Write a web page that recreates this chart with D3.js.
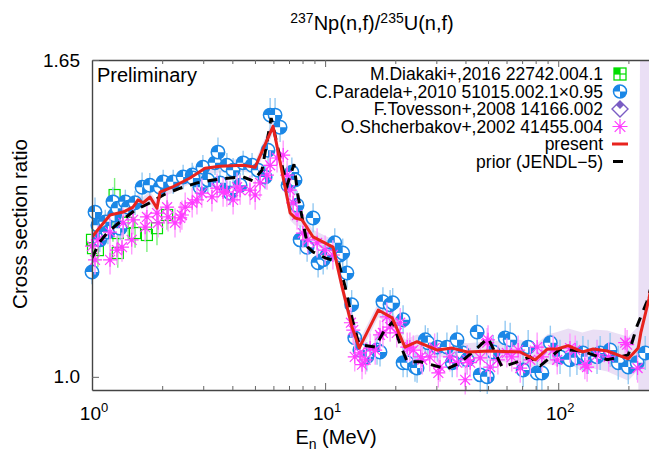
<!DOCTYPE html>
<html>
<head>
<meta charset="utf-8">
<script src="https://cdn.jsdelivr.net/npm/d3@7"></script>
<style>
  body { margin: 0; background: #fff; }
  svg { display: block; font-family: "Liberation Sans", Arial, Helvetica, sans-serif; }
</style>
</head>
<body>
<svg id="chart" width="649" height="452"></svg>
<script>
// ---- Evaluated curves: [E (MeV), ratio, 1-sigma band] ----
const present = [
  [1.00,1.287,.012],[1.195,1.332,.012],[1.359,1.338,.012],[1.50,1.348,.012],[1.575,1.363,.012],
  [1.655,1.357,.012],[1.774,1.369,.012],[1.90,1.346,.012],[1.958,1.379,.012],[2.205,1.389,.012],
  [2.634,1.408,.012],[3.055,1.428,.013],[3.542,1.432,.013],[4.45,1.434,.013],[5.01,1.430,.013],
  [5.98,1.514,.015],[7.08,1.336,.015],[7.43,1.326,.015],[7.96,1.322,.015],[8.88,1.287,.015],
  [10.82,1.266,.015],[11.83,1.184,.015],[13.05,1.102,.015],[14.0,1.059,.015],[16.9,1.137,.015],
  [19.4,1.121,.015],[22.0,1.061,.015],[24.8,1.072,.015],[30.3,1.055,.016],[35.1,1.059,.016],
  [40.7,1.051,.018],[51.1,1.053,.02],[68.7,1.051,.025],[79.6,1.035,.03],[89.7,1.057,.03],
  [99.0,1.057,.035],[110.4,1.064,.035],[126.8,1.051,.04],[141.3,1.057,.04],[162.3,1.053,.042],
  [199.7,1.037,.045],[220.4,1.059,.045],[226,1.09,.8],[245,1.16,.8],[270,1.27,.8]
];
const prior = [
  [1.0,1.244],[1.08,1.277],[1.17,1.297],[1.29,1.314],[1.53,1.342],[1.77,1.357],[2.06,1.375],
  [2.39,1.387],[2.82,1.398],[3.31,1.404],[3.91,1.408],[4.45,1.410],[4.91,1.402],[5.36,1.424],
  [5.87,1.531],[6.41,1.449],[6.87,1.393],[7.35,1.436],[7.64,1.373],[8.03,1.318],[8.43,1.266],
  [8.88,1.256],[10.0,1.244],[11.4,1.236],[12.2,1.184],[13.0,1.123],[13.8,1.076],[14.1,1.066],
  [16.4,1.061],[17.7,1.090],[19.5,1.113],[21.0,1.066],[22.5,1.031],[25.7,1.031],[33.3,1.016],
  [38.0,1.029],[44.9,1.059],[50.0,1.080],[57.4,1.020],[65.4,1.029],[75.9,1.041],[83.9,1.023],
  [101.8,1.057],[126.8,1.053],[162.3,1.035],[199.7,1.045],[218,1.105],[240,1.154],[270,1.24]
];

// ---- Measurements: [E (MeV), ratio, uncertainty] ----
const diakaki = [
  [1.00,1.281,.03],[1.01,1.264,.03],[1.06,1.260,.035],[1.08,1.311,.03],[1.23,1.307,.03],
  [1.25,1.373,.035],[1.29,1.295,.03],[1.29,1.254,.03],[1.43,1.316,.035],[1.53,1.295,.03],
  [1.72,1.291,.035],[1.90,1.305,.035],[2.10,1.332,.03]
];
const paradela = [
  [1.00,1.215,.025],[1.03,1.338,.03],[1.06,1.311,.025],[1.08,1.281,.025],[1.14,1.318,.025],
  [1.17,1.297,.025],[1.23,1.359,.03],[1.25,1.332,.025],[1.29,1.346,.025],[1.32,1.305,.025],
  [1.39,1.359,.025],[1.43,1.348,.025],[1.53,1.357,.025],[1.64,1.389,.03],[1.77,1.393,.025],
  [1.96,1.389,.025],[2.02,1.400,.025],[2.23,1.400,.025],[2.46,1.410,.025],[2.69,1.414,.025],
  [2.71,1.408,.025],[2.91,1.389,.025],[2.99,1.430,.025],[3.14,1.404,.025],[3.37,1.439,.025],
  [3.47,1.461,.03],[3.54,1.398,.025],[3.79,1.434,.025],[3.91,1.377,.025],[4.03,1.424,.025],
  [4.32,1.393,.025],[4.45,1.439,.025],[4.86,1.434,.025],[5.16,1.424,.025],[5.53,1.410,.025],
  [5.69,1.465,.03],[5.81,1.537,.035],[6.10,1.537,.035],[6.41,1.512,.03],[6.93,1.393,.03],
  [7.20,1.420,.03],[7.43,1.404,.03],[7.58,1.352,.03],[7.81,1.281,.03],[8.37,1.266,.03],
  [8.88,1.326,.03],[9.33,1.234,.03],[9.81,1.240,.03],[10.2,1.250,.03],[11.0,1.275,.03],
  [11.6,1.250,.03],[11.9,1.254,.03],[12.4,1.213,.03],[13.0,1.148,.03],[13.4,1.080,.03],
  [14.1,1.055,.03],[15.1,1.041,.03],[16.7,1.055,.03],[17.2,1.051,.03],[17.7,1.154,.03],
  [19.0,1.148,.03],[19.5,1.152,.03],[21.6,1.117,.03],[21.6,1.029,.03],[22.5,1.029,.03],
  [24.3,1.020,.03],[24.8,1.018,.03],[26.9,1.076,.03],[27.6,1.070,.03],[30.3,1.061,.03],
  [33.3,1.061,.03],[35.1,1.029,.03],[36.8,1.076,.03],[39.0,1.049,.03],[40.7,1.035,.03],
  [44.9,1.092,.035],[46.3,1.004,.035],[49.6,1.000,.035],[52.6,1.051,.035],[59.2,1.080,.035],
  [62.2,1.076,.035],[70.7,1.014,.035],[74.3,1.061,.035],[81.2,1.008,.035],[85.1,1.008,.035],
  [92.5,1.070,.035],[101.8,1.041,.035],[112.3,1.035,.035],[120.3,1.039,.035],[127.6,1.049,.035],
  [134.3,1.041,.035],[146.7,1.041,.035],[151.3,1.049,.035],[166.9,1.055,.035],[180.9,1.029,.035],
  [199.7,1.020,.035],[218.1,1.029,.035],[236.1,1.049,.035]
];
const tovesson = [];
const shcherbakov = [
  [1.00,1.268,.03],[1.03,1.240,.03],[1.06,1.281,.03],[1.195,1.240,.03],[1.195,1.297,.03],
  [1.28,1.260,.03],[1.345,1.266,.03],[1.36,1.316,.03],[1.48,1.281,.03],[1.50,1.322,.03],
  [1.69,1.307,.03],[1.72,1.328,.03],[1.90,1.336,.03],[1.92,1.316,.03],[2.10,1.348,.03],
  [2.12,1.328,.03],[2.27,1.316,.03],[2.39,1.326,.03],[2.43,1.332,.03],[2.51,1.348,.03],
  [2.69,1.357,.03],[2.82,1.363,.03],[2.96,1.377,.03],[3.27,1.369,.03],[3.44,1.387,.03],
  [3.65,1.379,.03],[3.79,1.379,.03],[4.03,1.363,.03],[4.19,1.389,.03],[4.32,1.383,.03],
  [4.76,1.383,.03],[5.01,1.373,.03],[5.26,1.398,.03],[5.63,1.414,.03],[5.81,1.434,.03],
  [6.22,1.449,.03],[6.61,1.455,.03],[6.87,1.414,.03],[7.07,1.383,.03],[7.29,1.357,.03],
  [7.58,1.332,.03],[8.03,1.295,.03],[8.43,1.281,.03],[9.24,1.275,.03],[10.0,1.260,.03],
  [10.8,1.250,.03],[12.9,1.111,.03],[13.2,1.096,.03],[13.4,1.041,.03],[14.1,1.049,.03],
  [14.4,1.025,.03],[14.9,1.035,.03],[15.6,1.059,.03],[16.4,1.055,.03],[17.2,1.086,.03],
  [17.7,1.090,.03],[18.4,1.123,.03],[19.0,1.102,.03],[20.3,1.090,.03],[21.0,1.111,.03],
  [22.5,1.061,.03],[23.1,1.061,.03],[23.9,1.055,.03],[25.7,1.041,.03],[26.1,1.035,.03],
  [28.1,1.041,.03],[29.5,1.059,.03],[30.6,1.008,.03],[31.1,1.020,.03],[34.3,1.041,.03],
  [36.8,1.029,.03],[39.9,0.994,.03],[40.7,1.035,.03],[41.9,1.029,.03],[46.3,1.039,.03],
  [49.6,1.070,.03],[50.0,1.076,.03],[51.1,1.020,.03],[55.1,1.035,.03],[60.2,1.049,.03],
  [63.2,1.041,.03],[67.3,1.055,.03],[68.7,1.018,.03],[75.9,1.035,.03],[81.2,1.061,.03],
  [85.1,1.041,.03],[95.1,1.055,.03],[99.0,1.035,.03],[112.3,1.059,.03],[118.3,1.055,.03],
  [130.1,1.025,.03],[133.0,1.020,.03],[146.7,1.045,.03],[164.6,1.041,.03],[193.7,1.070,.03],
  [197.4,1.066,.03],[219.0,1.018,.03]
];

// ---- Axis ticks and labels ----
const xTickExponents = [0, 1, 2];
const yTickValues = [1.0, 1.65];
const yTickLabels = ["1.0", "1.65"];
const legendLabels = [
  "M.Diakaki+,2016 22742.004.1",
  "C.Paradela+,2010 51015.002.1\u00d70.95",
  "F.Tovesson+,2008 14166.002",
  "O.Shcherbakov+,2002 41455.004",
  "present",
  "prior (JENDL\u22125)"
];

// ---- Colours ----
const C = {
  green: "#00dd00", greenErr: "#7cf07c",
  blue: "#1b87e6", blueErr: "#93c9f2",
  purple: "#7a5cc4",
  magenta: "#ff3cff", magentaErr: "#ff9cff",
  red: "#e8231e", band: "#eadff5", axis: "#444", tick: "#666"
};

const svg = d3.select("#chart");
const plot = { left: 92, right: 651, top: 60, bottom: 390 };
const x = d3.scaleLog().domain([1, 250]).range([plot.left, plot.right]);
const y = d3.scaleLinear().domain([0.973, 1.65]).range([plot.bottom, plot.top]);

svg.append("defs").append("clipPath").attr("id", "plotClip")
  .append("rect").attr("x", plot.left).attr("y", plot.top)
  .attr("width", plot.right - plot.left).attr("height", plot.bottom - plot.top);

// uncertainty band of the present evaluation
const inner = svg.append("g").attr("clip-path", "url(#plotClip)");
inner.append("path").datum(present)
  .attr("fill", C.band)
  .attr("d", d3.area().x(d => x(d[0])).y0(d => y(d[1] - d[2])).y1(d => y(d[1] + d[2])));

// ---- marker shapes ----
function errBars(g, data, color) {
  g.selectAll(null).data(data).join("line")
    .attr("x1", d => x(d[0])).attr("x2", d => x(d[0]))
    .attr("y1", d => y(d[1] - d[2])).attr("y2", d => y(d[1] + d[2]))
    .attr("stroke", color).attr("stroke-width", 1.4);
}
function squareMark(g, cx, cy, s) {
  const h = s / 2;
  g.append("rect").attr("x", cx - h).attr("y", cy - h).attr("width", s).attr("height", s)
    .attr("fill", "none").attr("stroke", C.green).attr("stroke-width", 1.2);
}
function squareLegend(g, cx, cy, s) {
  const h = s / 2;
  g.append("rect").attr("x", cx - h).attr("y", cy - h).attr("width", h).attr("height", h).attr("fill", C.green);
  g.append("rect").attr("x", cx - h).attr("y", cy - h).attr("width", s).attr("height", s)
    .attr("fill", "none").attr("stroke", C.green).attr("stroke-width", 1.3);
  g.append("line").attr("x1", cx - h).attr("x2", cx + h).attr("y1", cy).attr("y2", cy).attr("stroke", C.green).attr("stroke-width", 1.2);
  g.append("line").attr("x1", cx).attr("x2", cx).attr("y1", cy - h).attr("y2", cy + h).attr("stroke", C.green).attr("stroke-width", 1.2);
}
function circleMark(g, cx, cy, r) {
  g.append("circle").attr("cx", cx).attr("cy", cy).attr("r", r)
    .attr("fill", "#fff").attr("stroke", C.blue).attr("stroke-width", 1.5);
  g.append("path").attr("fill", C.blue)
    .attr("d", `M${cx},${cy}L${cx - r},${cy}A${r},${r} 0 0 1 ${cx},${cy - r}Z` +
               `M${cx},${cy}L${cx + r},${cy}A${r},${r} 0 0 1 ${cx},${cy + r}Z`);
}
function diamondMark(g, cx, cy, r) {
  g.append("path").attr("fill", C.purple)
    .attr("d", `M${cx},${cy - r}L${cx + r / 2},${cy - r / 2}L${cx},${cy}L${cx - r / 2},${cy - r / 2}Z`);
  g.append("path").attr("fill", "none").attr("stroke", C.purple).attr("stroke-width", 1.4)
    .attr("d", `M${cx},${cy - r}L${cx + r},${cy}L${cx},${cy + r}L${cx - r},${cy}Z`);
}
function starMark(g, cx, cy, r) {
  const k = r * Math.SQRT1_2;
  g.append("path").attr("stroke", C.magenta).attr("stroke-width", 1.2).attr("fill", "none")
    .attr("d", `M${cx - r},${cy}H${cx + r}M${cx},${cy - r}V${cy + r}` +
               `M${cx - k},${cy - k}L${cx + k},${cy + k}M${cx - k},${cy + k}L${cx + k},${cy - k}`);
  g.append("circle").attr("cx", cx).attr("cy", cy).attr("r", 1.6).attr("fill", C.magenta);
}

// ---- measurement layers ----
const gD = svg.append("g");
errBars(gD, diakaki, C.greenErr);
diakaki.forEach(d => squareMark(gD, x(d[0]), y(d[1]), 11));

const gP = svg.append("g");
errBars(gP, paradela, C.blueErr);
paradela.forEach(d => circleMark(gP, x(d[0]), y(d[1]), 6.7));

const gT = svg.append("g");
errBars(gT, tovesson, C.purple);
tovesson.forEach(d => diamondMark(gT, x(d[0]), y(d[1]), 7));

const gS = svg.append("g");
errBars(gS, shcherbakov, C.magentaErr);
shcherbakov.forEach(d => starMark(gS, x(d[0]), y(d[1]), 7));

// ---- evaluated curves ----
const curves = svg.append("g").attr("clip-path", "url(#plotClip)");
curves.append("path").datum(prior)
  .attr("fill", "none").attr("stroke", "#000").attr("stroke-width", 3)
  .attr("stroke-dasharray", "10,8")
  .attr("d", d3.line().x(d => x(d[0])).y(d => y(d[1])));
curves.append("path").datum(present)
  .attr("fill", "none").attr("stroke", C.red).attr("stroke-width", 3).attr("stroke-linejoin", "round")
  .attr("d", d3.line().x(d => x(d[0])).y(d => y(d[1])));

// ---- axes ----
const xTicks = x.ticks();
const isMajor = v => Math.abs(Math.log10(v) - Math.round(Math.log10(v))) < 1e-9;

const gxB = svg.append("g").attr("transform", `translate(0,${plot.bottom})`)
  .call(d3.axisBottom(x).tickValues(xTicks).tickSizeOuter(0).tickSizeInner(0).tickFormat(""));
gxB.selectAll(".tick line").attr("y2", d => isMajor(d) ? -7 : -4).attr("stroke", C.tick);

const gxT = svg.append("g").attr("transform", `translate(0,${plot.top})`)
  .call(d3.axisTop(x).tickValues(xTicks).tickSizeOuter(0).tickSizeInner(0).tickFormat(""));
gxT.selectAll(".tick line").attr("y2", d => isMajor(d) ? 7 : 4).attr("stroke", C.tick);

const gy = svg.append("g").attr("transform", `translate(${plot.left},0)`)
  .call(d3.axisLeft(y).tickValues(yTickValues).tickSizeOuter(0).tickSizeInner(-7).tickPadding(12)
    .tickFormat((d, i) => yTickLabels[i]));
gy.selectAll(".tick line").attr("stroke", C.tick);
gy.selectAll(".tick text").attr("font-size", 19).attr("fill", "#000")
  .attr("font-family", "Liberation Sans, Arial, sans-serif");

[gxB, gxT, gy].forEach(g => g.select(".domain").attr("stroke", C.axis).attr("stroke-width", 1.4));

// decade labels 10^n
const xl = svg.append("g").attr("font-size", 19).attr("text-anchor", "middle");
xTickExponents.forEach(e => {
  const t = xl.append("text").attr("x", x(Math.pow(10, e)) + 2).attr("y", plot.bottom + 30);
  t.append("tspan").text("10");
  t.append("tspan").attr("dy", -8).attr("font-size", 13).text(e);
});

// axis titles
const xt = svg.append("text").attr("x", 336).attr("y", 444).attr("font-size", 20).attr("text-anchor", "middle");
xt.append("tspan").text("E");
xt.append("tspan").attr("dy", 5).attr("font-size", 14).text("n");
xt.append("tspan").attr("dy", -5).text(" (MeV)");

svg.append("text").attr("transform", "translate(27,224) rotate(-90)")
  .attr("font-size", 20.5).attr("text-anchor", "middle").text("Cross section ratio");

const title = svg.append("text").attr("x", 372).attr("y", 30).attr("font-size", 20).attr("text-anchor", "middle");
title.append("tspan").attr("dy", -7).attr("font-size", 14).text("237");
title.append("tspan").attr("dy", 7).text("Np(n,f)/");
title.append("tspan").attr("dy", -7).attr("font-size", 14).text("235");
title.append("tspan").attr("dy", 7).text("U(n,f)");

svg.append("text").attr("x", 97).attr("y", 82).attr("font-size", 20).text("Preliminary");

// ---- legend ----
const lg = svg.append("g").attr("font-size", 17.5);
legendLabels.forEach((lab, i) => {
  const cy = 74 + i * 17.5;
  lg.append("text").attr("x", 603).attr("y", cy + 6).attr("text-anchor", "end").text(lab);
});
const sx = 620;
squareLegend(lg, sx, 74, 12);
circleMark(lg, sx, 91.5, 6.5);
diamondMark(lg, sx, 109, 8);
starMark(lg, sx, 126.5, 7.5);
lg.append("line").attr("x1", sx - 8).attr("x2", sx + 8).attr("y1", 144).attr("y2", 144)
  .attr("stroke", C.red).attr("stroke-width", 3);
lg.append("line").attr("x1", sx - 7).attr("x2", sx + 3).attr("y1", 161.5).attr("y2", 161.5)
  .attr("stroke", "#000").attr("stroke-width", 3);
</script>
</body>
</html>
